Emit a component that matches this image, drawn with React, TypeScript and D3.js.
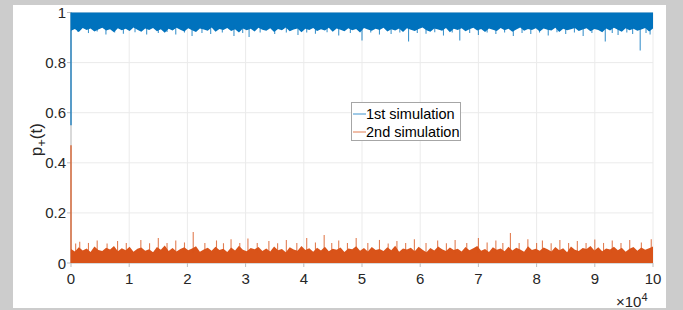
import React from "react";
import * as d3 from "d3";

// time axis is in units of 1e4 steps
const xTicks = [0, 1, 2, 3, 4, 5, 6, 7, 8, 9, 10];
const yTicks = [0, 0.2, 0.4, 0.6, 0.8, 1];
const legendLabels = ["1st simulation", "2nd simulation"];

const startValues = [0.55, 0.47];

// lower edge of the dense blue band, 150 bins across 0..10
const blueCore = [
  0.927, 0.934, 0.922, 0.938, 0.93, 0.936, 0.924, 0.932, 0.939, 0.928,
  0.933, 0.921, 0.937, 0.929, 0.935, 0.926, 0.94, 0.931, 0.923, 0.936,
  0.93, 0.938, 0.925, 0.933, 0.919, 0.935, 0.928, 0.939, 0.931, 0.924,
  0.937, 0.929, 0.922, 0.936, 0.932, 0.927, 0.94, 0.923, 0.934, 0.93,
  0.938, 0.926, 0.933, 0.92, 0.936, 0.929, 0.935, 0.924, 0.939, 0.931,
  0.927, 0.937, 0.922, 0.934, 0.929, 0.94, 0.925, 0.932, 0.936, 0.921,
  0.935, 0.93, 0.938, 0.926, 0.933, 0.928, 0.939, 0.923, 0.936, 0.931,
  0.925, 0.937, 0.929, 0.934, 0.92, 0.938, 0.932, 0.927, 0.935, 0.93,
  0.939, 0.924, 0.933, 0.928, 0.936, 0.922, 0.937, 0.931, 0.926, 0.934,
  0.94, 0.929, 0.923, 0.936, 0.932, 0.927, 0.938, 0.921, 0.935, 0.93,
  0.937, 0.925, 0.933, 0.939, 0.928, 0.934, 0.922, 0.936, 0.931, 0.926,
  0.938, 0.929, 0.935, 0.923, 0.932, 0.94, 0.927, 0.934, 0.93, 0.937,
  0.924, 0.936, 0.931, 0.928, 0.939, 0.922, 0.935, 0.929, 0.933, 0.938,
  0.926, 0.932, 0.937, 0.925, 0.934, 0.93, 0.921, 0.936, 0.928, 0.939,
  0.931, 0.923, 0.937, 0.929, 0.935, 0.927, 0.932, 0.938, 0.924, 0.936,
];

// upper edge of the dense orange band
const orangeCore = [
  0.056, 0.046, 0.063, 0.05, 0.058, 0.044, 0.066, 0.052, 0.048, 0.061,
  0.054, 0.068, 0.047, 0.059, 0.051, 0.065, 0.045, 0.057, 0.062, 0.049,
  0.055, 0.043, 0.064, 0.053, 0.07, 0.048, 0.06, 0.046, 0.056, 0.063,
  0.051, 0.058, 0.067, 0.045, 0.054, 0.061, 0.049, 0.065, 0.052, 0.057,
  0.044, 0.062, 0.05, 0.069, 0.053, 0.047, 0.06, 0.055, 0.064, 0.048,
  0.058, 0.046, 0.066, 0.051, 0.056, 0.043, 0.063, 0.054, 0.049, 0.068,
  0.052, 0.059, 0.045, 0.061, 0.05, 0.065, 0.047, 0.057, 0.053, 0.062,
  0.044, 0.058, 0.055, 0.067, 0.049, 0.06, 0.046, 0.064, 0.052, 0.056,
  0.048, 0.063, 0.051, 0.069, 0.045, 0.058, 0.054, 0.061, 0.047, 0.065,
  0.053, 0.043, 0.06, 0.05, 0.066, 0.055, 0.048, 0.062, 0.052, 0.057,
  0.046, 0.064, 0.051, 0.059, 0.068, 0.049, 0.056, 0.044, 0.063, 0.053,
  0.058, 0.047, 0.065, 0.05, 0.061, 0.054, 0.045, 0.067, 0.052, 0.057,
  0.049, 0.062, 0.055, 0.046, 0.064, 0.051, 0.059, 0.043, 0.066, 0.053,
  0.048, 0.06, 0.056, 0.068, 0.05, 0.063, 0.047, 0.058, 0.054, 0.065,
  0.051, 0.061, 0.045, 0.057, 0.064, 0.049, 0.062, 0.053, 0.059, 0.066,
];

// isolated excursions [t, value]
const blueSpikes: [number, number][] = [
  [0.12, 0.922], [0.3, 0.918], [0.45, 0.924], [0.6, 0.912], [0.75, 0.92],
  [0.9, 0.915], [1.1, 0.921], [1.3, 0.912], [1.5, 0.918], [1.65, 0.922],
  [1.8, 0.912], [1.95, 0.92], [2.08, 0.906], [2.25, 0.918], [2.4, 0.914],
  [2.6, 0.92], [2.8, 0.906], [2.95, 0.918], [3.06, 0.902], [3.25, 0.92],
  [3.5, 0.914], [3.7, 0.92], [3.9, 0.91], [4.05, 0.92], [4.2, 0.915],
  [4.4, 0.921], [4.6, 0.908], [4.8, 0.918], [5.0, 0.888], [5.15, 0.92],
  [5.3, 0.912], [5.5, 0.914], [5.65, 0.92], [5.8, 0.884], [5.95, 0.918],
  [6.1, 0.915], [6.25, 0.921], [6.4, 0.908], [6.55, 0.92], [6.68, 0.888],
  [6.85, 0.918], [7.0, 0.91], [7.15, 0.92], [7.3, 0.914], [7.45, 0.92],
  [7.6, 0.906], [7.75, 0.918], [7.9, 0.914], [8.05, 0.92], [8.2, 0.908],
  [8.35, 0.921], [8.5, 0.914], [8.65, 0.92], [8.8, 0.906], [8.95, 0.918],
  [9.18, 0.884], [9.3, 0.918], [9.4, 0.91], [9.55, 0.92], [9.65, 0.914],
  [9.78, 0.848], [9.88, 0.918], [9.95, 0.912],
];

const orangeSpikes: [number, number][] = [
  [0.08, 0.078], [0.15, 0.085], [0.3, 0.08], [0.45, 0.09], [0.62, 0.078],
  [0.8, 0.088], [0.95, 0.08], [1.2, 0.092], [1.35, 0.079], [1.5, 0.1],
  [1.65, 0.08], [1.8, 0.09], [1.95, 0.082], [2.1, 0.124], [2.3, 0.08],
  [2.5, 0.09], [2.62, 0.079], [2.75, 0.095], [2.9, 0.08], [3.04, 0.098],
  [3.2, 0.08], [3.4, 0.088], [3.55, 0.079], [3.7, 0.092], [3.88, 0.08],
  [4.05, 0.1], [4.2, 0.082], [4.35, 0.112], [4.48, 0.08], [4.6, 0.09],
  [4.75, 0.08], [4.9, 0.1], [5.1, 0.08], [5.3, 0.092], [5.45, 0.078],
  [5.6, 0.088], [5.75, 0.08], [5.9, 0.095], [6.1, 0.08], [6.3, 0.09],
  [6.45, 0.079], [6.6, 0.092], [6.8, 0.08], [7.0, 0.1], [7.15, 0.082],
  [7.3, 0.09], [7.42, 0.08], [7.55, 0.12], [7.7, 0.08], [7.85, 0.095],
  [8.0, 0.08], [8.1, 0.09], [8.25, 0.079], [8.4, 0.092], [8.55, 0.08],
  [8.7, 0.088], [8.85, 0.08], [9.0, 0.094], [9.15, 0.08], [9.3, 0.09],
  [9.45, 0.08], [9.6, 0.092], [9.8, 0.082], [9.97, 0.095],
];

const BLUE = "#0072BD";
const ORANGE = "#D95319";
const FONT = "'Liberation Sans', Arial, sans-serif";

export default function App() {
  const width = 683;
  const height = 310;
  const margin = { left: 71, right: 30, top: 12.5, bottom: 47 };

  const x = d3.scaleLinear().domain([0, 10]).range([margin.left, width - margin.right]);
  const y = d3.scaleLinear().domain([0, 1]).range([height - margin.bottom, margin.top]);

  const binT = (i: number, n: number) => (i * 10) / (n - 1);

  const blueArea = d3
    .area<number>()
    .x((_, i) => x(binT(i, blueCore.length)))
    .y0(y(1))
    .y1((d) => y(d));
  const orangeArea = d3
    .area<number>()
    .x((_, i) => x(binT(i, orangeCore.length)))
    .y0(y(0))
    .y1((d) => y(d));

  return (
    <div style={{ position: "absolute", left: 0, top: 0 }}>
      <svg width={width} height={height} style={{ display: "block" }}>
        <rect x={0} y={0} width={width} height={height} fill="#cccccc" />
        <rect x={13} y={5} width={653} height={303} fill="#ffffff" />

        {/* grid */}
        {xTicks.map((t) => (
          <line key={"gx" + t} x1={x(t)} x2={x(t)} y1={y(0)} y2={y(1)} stroke="#ebebeb" strokeWidth={1} />
        ))}
        {yTicks.map((t) => (
          <line key={"gy" + t} x1={x(0)} x2={x(10)} y1={y(t)} y2={y(t)} stroke="#ebebeb" strokeWidth={1} />
        ))}

        {/* axes */}
        <line x1={x(0)} x2={x(0)} y1={y(0)} y2={y(1)} stroke="#bdbdbd" />
        <line x1={x(0)} x2={x(10)} y1={y(0)} y2={y(0)} stroke="#bdbdbd" />
        {yTicks.map((t) => (
          <line key={"ty" + t} x1={x(0) - 4} x2={x(0)} y1={y(t)} y2={y(t)} stroke="#bdbdbd" />
        ))}
        {xTicks.map((t) => (
          <line key={"tx" + t} x1={x(t)} x2={x(t)} y1={y(0)} y2={y(0) + 4} stroke="#bdbdbd" />
        ))}

        {/* 1st simulation */}
        <line x1={x(0)} x2={x(0)} y1={y(startValues[0])} y2={y(1)} stroke={BLUE} strokeWidth={1.2} />
        <path d={blueArea(blueCore) ?? ""} fill={BLUE} />
        {blueSpikes.map(([t, v], i) => (
          <line key={"bs" + i} x1={x(t)} x2={x(t)} y1={y(0.95)} y2={y(v)} stroke={BLUE} strokeWidth={1.1} opacity={0.75} />
        ))}

        {/* 2nd simulation */}
        <line x1={x(0)} x2={x(0)} y1={y(startValues[1])} y2={y(0)} stroke={ORANGE} strokeWidth={1.2} />
        <path d={orangeArea(orangeCore) ?? ""} fill={ORANGE} />
        {orangeSpikes.map(([t, v], i) => (
          <line key={"os" + i} x1={x(t)} x2={x(t)} y1={y(0.04)} y2={y(v)} stroke={ORANGE} strokeWidth={1.1} opacity={0.75} />
        ))}

        {/* tick labels */}
        {yTicks.map((t) => (
          <text key={"ly" + t} x={x(0) - 5} y={y(t) + 5.5} textAnchor="end" fontFamily={FONT} fontSize={15} fill="#262626">
            {d3.format("~g")(t)}
          </text>
        ))}
        {xTicks.map((t) => (
          <text key={"lx" + t} x={x(t)} y={y(0) + 21} textAnchor="middle" fontFamily={FONT} fontSize={15} fill="#262626">
            {t}
          </text>
        ))}
        <text x={616} y={307} fontFamily={FONT} fontSize={15} fill="#262626">
          ×10
          <tspan dy={-6} fontSize={11}>4</tspan>
        </text>

        {/* y label */}
        <text
          transform={`translate(42,${(y(0) + y(1)) / 2 + 2}) rotate(-90)`}
          textAnchor="middle"
          fontFamily={FONT}
          fontSize={17}
          fill="#262626"
        >
          p<tspan fontSize={13} dy={4}>+</tspan>
          <tspan dy={-4}>(t)</tspan>
        </text>

        {/* legend */}
        <rect x={351.5} y={102.5} width={109} height={38} fill="#ffffff" stroke="#a6a6a6" />
        {legendLabels.map((l, i) => (
          <g key={l}>
            <line x1={353} x2={366} y1={114 + i * 18} y2={114 + i * 18} stroke={i === 0 ? BLUE : ORANGE} strokeWidth={1} opacity={0.75} />
            <text x={366} y={119 + i * 18} fontFamily={FONT} fontSize={14.5} fill="#000000">
              {l}
            </text>
          </g>
        ))}
      </svg>
    </div>
  );
}
